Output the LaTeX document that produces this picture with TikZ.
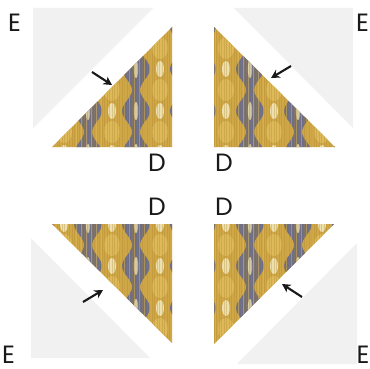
\documentclass[tikz,border=0pt]{standalone}
\usepackage{fontspec}
\setmainfont{Poppins}
\usetikzlibrary{arrows.meta}
\definecolor{grayfill}{HTML}{F1F1F1}
\definecolor{gold}{HTML}{D0A746}
\definecolor{goldlight}{HTML}{DDB95A}
\definecolor{slate}{HTML}{6E6E86}
\definecolor{cream}{HTML}{EDE0AE}
\definecolor{golddark}{HTML}{A9852E}
\tikzset{
  lbl/.style={font=\fontsize{25}{25}\selectfont, inner sep=0pt, anchor=center, text=black!90},
  piece/.style={fill=grayfill},
  pointer/.style={-{Stealth[length=8.5pt,width=9pt]}, line width=2.1pt, black!90},
}
\newcommand{\fabpat}{%
  \fill[gold] (-2,-2) rectangle (124,124);
  \foreach \c in {-1,0,1,2}{
    \pgfmathsetmacro{\cx}{12+\c*48}
    \foreach \j in {0,1,2,3}{
      \fill[goldlight] (\cx,\j*42+21) ellipse (8 and 11);
      \fill[cream] (\cx,\j*42) ellipse (4 and 8);
    }
    \fill[slate] plot[domain=-4:124,samples=50,smooth] ({\cx+24-9-5*cos(\x*8.5714)},\x)
      -- plot[domain=124:-4,samples=50,smooth] ({\cx+24+9+5*cos(\x*8.5714)},\x) -- cycle;
    \foreach \t in {-12,-7,...,13}{
      \draw[goldlight, line width=0.6pt, opacity=0.55] (\cx+24+\t,-4) -- (\cx+24+\t,126);
    }
    \foreach \j in {0,1,2,3}{
      \fill[cream, opacity=0.8] (\cx+24,\j*42) ellipse (2.2 and 9);
    }
  }
  \foreach \t in {0,2.5,...,122}{
    \draw[golddark, line width=0.3pt, opacity=0.3] (\t,-2) -- (\t,124);
  }
}
\begin{document}
\begin{tikzpicture}[x=1pt,y=-1pt]
\useasboundingbox (0,0) rectangle (369,369);
\fill[white] (0,0) rectangle (369,369);

% gray triangles
\fill[piece] (33,8) -- (153,8) -- (33,128) -- cycle;
\fill[piece] (234,8) -- (353,8) -- (353,128) -- cycle;
\fill[piece] (31,238) -- (31,358) -- (150,358) -- cycle;
\fill[piece] (357,243) -- (357,364) -- (237,364) -- cycle;

% fabric triangles
\begin{scope}
  \clip (172,27) -- (172,147) -- (52,147) -- cycle;
  \begin{scope}[shift={(52,27)}]\fabpat\end{scope}
\end{scope}
\begin{scope}
  \clip (214,27) -- (214,147) -- (335,147) -- cycle;
  \begin{scope}[shift={(214,27)}]\fabpat\end{scope}
\end{scope}
\begin{scope}
  \clip (52,224) -- (172,224) -- (172,343) -- cycle;
  \begin{scope}[shift={(52,224)}]\fabpat\end{scope}
\end{scope}
\begin{scope}
  \clip (214,224) -- (334,224) -- (214,344) -- cycle;
  \begin{scope}[shift={(214,224)}]\fabpat\end{scope}
\end{scope}

% labels
\node[lbl] (eTL) at (14.5,22.5) {E};
\node[lbl] (eTR) at (362.5,23) {E};
\node[lbl] (eBL) at (8.5,355) {E};
\node[lbl] (eBR) at (363,355) {E};
\node[lbl] (dTL) at (157,162.5) {D};
\node[lbl] (dTR) at (224,162.5) {D};
\node[lbl] (dBL) at (157,206.5) {D};
\node[lbl] (dBR) at (224,206.5) {D};

% arrows
\coordinate (aTLs) at (92,72);  \coordinate (aTLe) at (112,85);
\coordinate (aTRs) at (291,66); \coordinate (aTRe) at (271,78);
\coordinate (aBLs) at (83,302); \coordinate (aBLe) at (103,290);
\coordinate (aBRs) at (302,297);\coordinate (aBRe) at (282,284);
\draw[pointer] (aTLs) -- (aTLe);
\draw[pointer] (aTRs) -- (aTRe);
\draw[pointer] (aBLs) -- (aBLe);
\draw[pointer] (aBRs) -- (aBRe);
\end{tikzpicture}
\end{document}
